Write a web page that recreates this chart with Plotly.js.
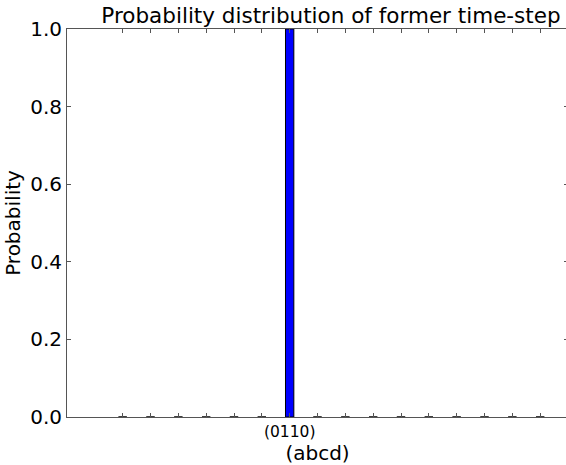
<!DOCTYPE html>
<html><head><meta charset="utf-8">
<script src="https://cdn.plot.ly/plotly-3.0.1.min.js"></script>
<style>html,body{margin:0;padding:0;overflow:hidden;background:#fff}#chart{width:568px;height:465px}</style>
</head><body><div id="chart"></div>
<script>
var states = ['(0000)','(0001)','(0010)','(0011)','(0100)','(0101)','(0110)','(0111)',
              '(1000)','(1001)','(1010)','(1011)','(1100)','(1101)','(1110)','(1111)'];
var probabilities = [0,0,0,0,0,0,1,0,0,0,0,0,0,0,0,0];
var yTicks = [0,0.2,0.4,0.6,0.8,1.0];
var yTickText = ['0.0','0.2','0.4','0.6','0.8','1.0'];

var xs = states.map(function(_, i){ return i; });
var tickText = states.map(function(s, i){ return probabilities[i] > 0 ? s : ''; });

var font = {family:'DejaVu Sans, sans-serif', color:'#000'};
Plotly.newPlot('chart', [{
  type:'bar', x: xs, y: probabilities, width: 0.3,
  marker:{color:'#0000ff', line:{color:'#000', width:1}},
  hoverinfo:'skip'
}], {
  width:568, height:465,
  margin:{l:67, r:0, t:29, b:48},
  paper_bgcolor:'#fff', plot_bgcolor:'#fff',
  showlegend:false,
  font: font,
  title:{text:'Probability distribution of former time-step', font:{family:font.family, size:21.5, color:'#000'},
         xref:'container', x:331/568, xanchor:'center', yref:'container', y:1-15/465, yanchor:'middle'},
  xaxis:{range:[-2,16], tickvals: xs, ticktext: tickText, ticks:'inside', ticklen:4, tickcolor:'#555',
         showline:true, linecolor:'#555', linewidth:1, mirror:'ticks', showgrid:false, zeroline:false,
         tickfont:{family:font.family, size:15.5, color:'#000'},
         title:{text:'(abcd)', font:{family:font.family, size:20, color:'#000'}, standoff:2}},
  yaxis:{range:[0,1], tickvals: yTicks, ticktext: yTickText, ticks:'inside', ticklen:4, tickcolor:'#555',
         showline:true, linecolor:'#555', linewidth:1, mirror:'ticks', showgrid:false, zeroline:false,
         tickfont:{family:font.family, size:20, color:'#000'},
         title:{text:'Probability', font:{family:font.family, size:20, color:'#000'}, standoff:4}}
}, {displayModeBar:false, staticPlot:true});
</script></body></html>
